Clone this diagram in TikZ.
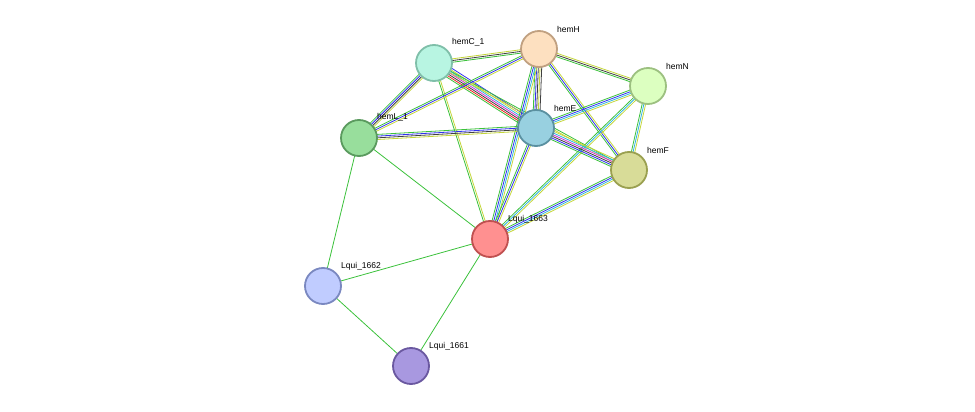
\documentclass[tikz,border=0pt]{standalone}
\usepackage{fontspec}
\setmainfont{Liberation Sans}
\usetikzlibrary{calc}
\definecolor{eg}{HTML}{3BC13B}
\definecolor{eb}{HTML}{3030F0}
\definecolor{ek}{HTML}{404040}
\definecolor{ey}{HTML}{C4D63A}
\definecolor{ec}{HTML}{30B4E0}
\definecolor{em}{HTML}{D030D0}
\definecolor{er}{HTML}{F02020}
\newcommand\medge[4]{\foreach \cc [count=\i] in {#4}{\pgfmathsetmacro\o{(\i-(#3+1)/2)*1.7}
  \draw[color=e\cc,line width=0.8pt] ($(#1.center)!\o pt!90:(#2.center)$) -- ($(#2.center)!\o pt!-90:(#1.center)$);}}
\begin{document}
\begin{tikzpicture}[x=1pt,y=-1pt,
  prot/.style={circle,minimum size=36pt,inner sep=0pt,line width=1.8pt},
  lab/.style={font=\fontsize{8.5}{10}\selectfont,anchor=south west,inner sep=1pt}]
\useasboundingbox (0,0) rectangle (975,412);
\coordinate (C) at (434,63);
\coordinate (H) at (539,49);
\coordinate (N) at (648,86);
\coordinate (E) at (536,128);
\coordinate (L) at (359,138);
\coordinate (F) at (629,170);
\coordinate (Q3) at (490,239);
\coordinate (Q2) at (323,286);
\coordinate (Q1) at (411,366);
\medge{C}{H}{3}{g,k,y}
\medge{C}{E}{7}{g,r,k,m,c,y,b}
\medge{C}{L}{4}{g,b,k,y}
\medge{C}{F}{2}{y,g}
\medge{C}{Q3}{2}{g,y}
\medge{H}{L}{3}{g,b,y}
\medge{H}{E}{5}{g,b,k,y,k}
\medge{H}{N}{3}{g,k,y}
\medge{H}{F}{3}{g,b,y}
\medge{H}{Q3}{4}{g,b,c,y}
\medge{N}{E}{4}{g,b,c,y}
\medge{N}{F}{3}{g,c,y}
\medge{N}{Q3}{3}{g,c,y}
\medge{E}{L}{4}{g,b,k,y}
\medge{E}{F}{6}{g,b,k,m,c,y}
\medge{E}{Q3}{3}{g,b,y}
\medge{F}{Q3}{4}{g,b,c,y}
\medge{L}{Q3}{1}{g}
\medge{L}{Q2}{1}{g}
\medge{Q3}{Q2}{1}{g}
\medge{Q3}{Q1}{1}{g}
\medge{Q2}{Q1}{1}{g}
\node[prot,fill={rgb,255:red,184;green,245;blue,226},draw={rgb,255:red,127;green,191;blue,169}] (nC) at (C) {};
\node[prot,fill={rgb,255:red,253;green,224;blue,192},draw={rgb,255:red,192;green,160;blue,128}] (nH) at (H) {};
\node[prot,fill={rgb,255:red,220;green,255;blue,192},draw={rgb,255:red,156;green,192;blue,128}] (nN) at (N) {};
\node[prot,fill={rgb,255:red,152;green,208;blue,224},draw={rgb,255:red,90;green,144;blue,160}] (nE) at (E) {};
\node[prot,fill={rgb,255:red,152;green,222;blue,156},draw={rgb,255:red,90;green,154;blue,94}] (nL) at (L) {};
\node[prot,fill={rgb,255:red,216;green,220;blue,152},draw={rgb,255:red,154;green,160;blue,80}] (nF) at (F) {};
\node[prot,fill={rgb,255:red,255;green,144;blue,144},draw={rgb,255:red,192;green,80;blue,80}] (nQ3) at (Q3) {};
\node[prot,fill={rgb,255:red,192;green,204;blue,255},draw={rgb,255:red,122;green,136;blue,192}] (nQ2) at (Q2) {};
\node[prot,fill={rgb,255:red,168;green,152;blue,224},draw={rgb,255:red,106;green,88;blue,160}] (nQ1) at (Q1) {};
\node[lab] at (451,47) {hemC\_1};
\node[lab] at (556,34) {hemH};
\node[lab] at (665,71) {hemN};
\node[lab] at (553,113) {hemE};
\node[lab] at (376,122) {hemL\_1};
\node[lab] at (646,155) {hemF};
\node[lab] at (507,224) {Lqui\_1663};
\node[lab] at (340,271) {Lqui\_1662};
\node[lab] at (428,351) {Lqui\_1661};
\end{tikzpicture}
\end{document}
